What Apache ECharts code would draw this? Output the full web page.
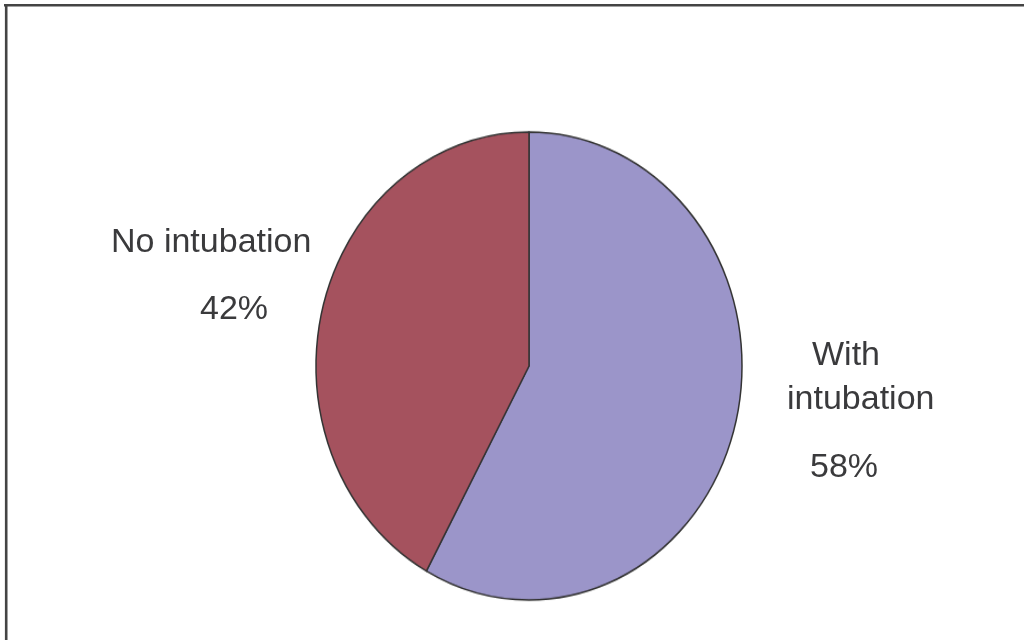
<!DOCTYPE html>
<html>
<head>
<meta charset="utf-8">
<script src="https://cdn.jsdelivr.net/npm/echarts@6/dist/echarts.min.js"></script>
<style>
  html, body { margin: 0; padding: 0; background: #fff; }
  #wrap { position: relative; width: 1024px; height: 640px; overflow: hidden; }
  #pie, #labels { position: absolute; left: 0; top: 0; width: 1024px; height: 640px; }
  #pie { transform: scaleY(1.0986); transform-origin: 0 366px; }
</style>
</head>
<body>
<div id="wrap">
  <div id="pie"></div>
  <div id="labels"></div>
</div>
<script>
const categories = ['With intubation', 'No intubation'];
const values = [58, 42];
const colors = ['#9b95c9', '#a5525e'];

const labelPos = [
  { x: 787, y: 334 },
  { x: 111, y: 221 }
];

const pieData = categories.map((c, i) => ({ name: c, value: values[i], itemStyle: { color: colors[i] } }));

// Pie shape layer (stretched vertically to match the elliptical original)
const pieChart = echarts.init(document.getElementById('pie'), null, { renderer: 'canvas' });
pieChart.setOption({
  animation: false,
  series: [{
    type: 'pie',
    center: [529, 366],
    radius: 213,
    startAngle: 90,
    clockwise: true,
    data: pieData,
    itemStyle: { borderColor: '#333', borderWidth: 1.5 },
    label: { show: false },
    labelLine: { show: false }
  }]
});

// Label layer (unstretched text) with frame
const labelChart = echarts.init(document.getElementById('labels'), null, { renderer: 'canvas' });
labelChart.setOption({
  animation: false,
  graphic: [
    { type: 'line', shape: { x1: 4, y1: 5.3, x2: 1024, y2: 5.3 }, style: { stroke: '#444', lineWidth: 2.6 } },
    { type: 'line', shape: { x1: 6.2, y1: 4, x2: 6.2, y2: 640 }, style: { stroke: '#444', lineWidth: 2.6 } }
  ],
  series: [{
    type: 'pie',
    center: [529, 366],
    radius: 213,
    startAngle: 90,
    clockwise: true,
    data: categories.map((c, i) => ({ name: c, value: values[i] })),
    itemStyle: { color: 'rgba(0,0,0,0)', borderWidth: 0 },
    emphasis: { disabled: true },
    labelLine: { show: false },
    label: {
      show: true,
      position: 'outside',
      color: '#3a3a3c',
      fontFamily: 'Liberation Sans',
      fontSize: 34,
      align: 'left',
      formatter: function (p) {
        if (p.dataIndex === 0) {
          const parts = p.name.split(' ');
          return '{w|' + parts[0] + '}\n{a|' + parts.slice(1).join(' ') + '}\n{p|' + p.value + '%}';
        }
        return '{a|' + p.name + '}\n{q|' + p.value + '%}';
      },
      rich: {
        w: { fontSize: 34, lineHeight: 44, color: '#3a3a3c', fontFamily: 'Liberation Sans', padding: [0, 0, 0, 25] },
        a: { fontSize: 34, lineHeight: 44, color: '#3a3a3c', fontFamily: 'Liberation Sans' },
        p: { fontSize: 34, lineHeight: 92, color: '#3a3a3c', fontFamily: 'Liberation Sans', padding: [0, 0, 0, 23] },
        q: { fontSize: 34, lineHeight: 90, color: '#3a3a3c', fontFamily: 'Liberation Sans', padding: [0, 0, 0, 89] }
      }
    },
    labelLayout: function (params) {
      const pos = labelPos[params.dataIndex];
      return { x: pos.x, y: pos.y, align: 'left', verticalAlign: 'top' };
    }
  }]
});
</script>
</body>
</html>
